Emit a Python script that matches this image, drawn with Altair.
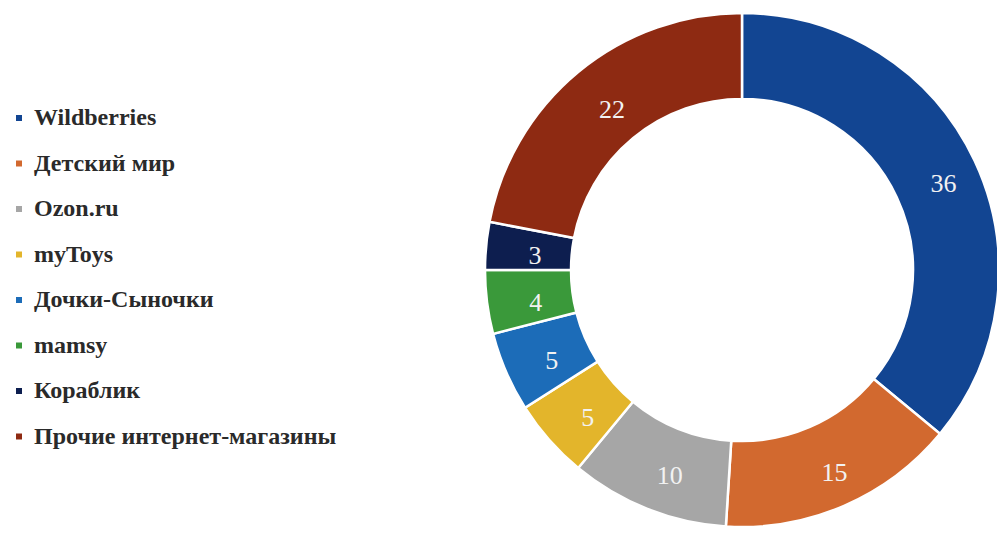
import altair as alt
import pandas as pd

shops = ["Wildberries", "Детский мир", "Ozon.ru", "myToys", "Дочки-Сыночки",
         "mamsy", "Кораблик", "Прочие интернет-магазины"]
shares = [36, 15, 10, 5, 5, 4, 3, 22]
colors = ["#124592", "#D2692F", "#A6A6A6", "#E3B52B", "#1C6CB8",
          "#3A993A", "#0D1E4F", "#8E2A12"]

df = pd.DataFrame({"shop": shops, "share": shares, "idx": list(range(len(shops)))})

cx, cy = 734, 262

base = alt.Chart(df).encode(
    theta=alt.Theta("share:Q", stack=True),
    order=alt.Order("idx:Q"),
)

arcs = base.mark_arc(outerRadius=257, innerRadius=171, stroke="white", strokeWidth=2.5).encode(
    x=alt.value(cx), y=alt.value(cy),
    color=alt.Color(
        "shop:N",
        scale=alt.Scale(domain=shops, range=colors),
        sort=shops,
        legend=alt.Legend(
            title=None, orient="none", legendX=-1, legendY=98,
            symbolType="square", symbolSize=36, symbolStrokeWidth=0,
            labelFont="Liberation Serif", labelFontSize=24, labelFontWeight="bold",
            labelColor="#2a2a2a",
            labelOffset=3, rowPadding=21.5, labelLimit=400,
        ),
    ),
)

labels = base.mark_text(radius=215, font="Liberation Serif", fontSize=26,
                        color="#F2F2F2", dx=7, dy=6).encode(
    x=alt.value(cx), y=alt.value(cy),
    text=alt.Text("share:Q"),
)

chart = (arcs + labels).properties(
    width=989, height=521, padding=0, autosize=alt.AutoSizeParams(type="none")
).configure_view(stroke=None)

chart.save("out.html", embed_options={"renderer": "svg", "actions": False})
